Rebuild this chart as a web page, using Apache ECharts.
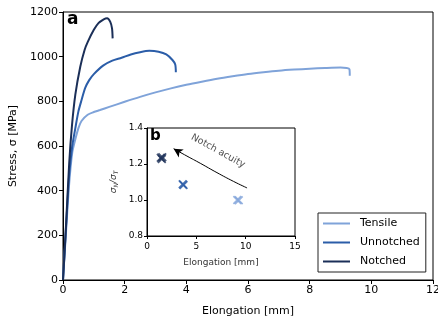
<!DOCTYPE html>
<html><head><meta charset="utf-8">
<script src="https://cdn.jsdelivr.net/npm/echarts@6/dist/echarts.min.js"></script>
<style>html,body{margin:0;padding:0;background:#fff}#c{width:438px;height:322px}</style>
</head><body><div id="c"></div>
<script>
// Stress–strain curves: [elongation mm, stress MPa]
var tensile = [[0,0],[0.1,220],[0.2,430],[0.3,570],[0.4,630],[0.5,680],[0.6,712],[0.8,740],[1.0,752],[1.2,761],[1.5,775],[2.0,798],[2.5,820],[3.0,840],[3.5,858],[4.0,874],[4.5,888],[5.0,901],[5.5,912],[6.0,922],[6.5,930],[7.0,937],[7.5,942],[8.0,946],[8.5,949],[9.0,951],[9.2,949],[9.29,944],[9.3,915]];
var unnotched = [[0,0],[0.1,240],[0.2,470],[0.3,600],[0.4,680],[0.5,755],[0.6,805],[0.72,860],[0.85,895],[1.0,922],[1.3,960],[1.6,982],[1.9,995],[2.2,1010],[2.5,1020],[2.8,1026],[3.1,1022],[3.35,1010],[3.55,985],[3.64,965],[3.66,930]];
var notched = [[0,0],[0.1,250],[0.2,520],[0.29,690],[0.4,830],[0.56,955],[0.7,1030],[0.8,1065],[1.0,1120],[1.15,1150],[1.32,1167],[1.43,1172],[1.53,1157],[1.59,1127],[1.61,1082]];
// Inset: strength ratio vs elongation
var insetTensile = [[9.15,1.0],[9.3,0.998]];
var insetUnnotched = [[3.62,1.088],[3.7,1.083]];
var insetNotched = [[1.4,1.235],[1.5,1.228],[1.55,1.238]];
var arrowPath = [[10.14,1.067],[8.78,1.103],[7.09,1.152],[5.4,1.204],[4.05,1.244],[2.7,1.285]];
var xTicksMain = [0,2,4,6,8,10,12];
var yTicksMain = [0,200,400,600,800,1000,1200];

var C_T = '#7FA3D9', C_U = '#2B5DA8', C_N = '#1B2F58';
var FONT = 'DejaVu Sans';
var X = 'path://M0,1.4 L1.4,0 L5,3.6 L8.6,0 L10,1.4 L6.4,5 L10,8.6 L8.6,10 L5,6.4 L1.4,10 L0,8.6 L3.6,5 Z';
var LINEICON = 'path://M0,0 L27,0 L27,2 L0,2 Z';

var arrowData = arrowPath.map(function(p,i){
  if (i === arrowPath.length-1) return {value:p, symbol:'arrow', symbolSize:[7,9], symbolRotate:58, itemStyle:{color:'#000'}};
  return {value:p, symbol:'none'};
});
function plain(v){ return String(v); }

var chart = echarts.init(document.getElementById('c'), null, {renderer:'canvas'});
chart.setOption({
  animation:false,
  backgroundColor:'#fff',
  textStyle:{fontFamily:FONT},
  grid:[
    {left:63, right:5, top:12, bottom:42, show:true, borderColor:'#000', borderWidth:1, outerBoundsMode:'none', containLabel:false},
    {left:147, top:128, width:148, height:108, show:true, borderColor:'#000', borderWidth:1, backgroundColor:'#fff', z:5, outerBoundsMode:'none', containLabel:false}
  ],
  xAxis:[
    {gridIndex:0, type:'value', min:xTicksMain[0], max:xTicksMain[xTicksMain.length-1], interval:2,
     name:'Elongation [mm]', nameLocation:'middle', nameGap:26, nameTextStyle:{fontSize:11, color:'#000', fontFamily:FONT},
     axisLine:{lineStyle:{color:'#000', width:1}}, axisTick:{length:4, lineStyle:{color:'#000'}},
     axisLabel:{fontSize:11, color:'#000', margin:5, fontFamily:FONT, formatter:plain, hideOverlap:false}, splitLine:{show:false}},
    {gridIndex:1, type:'value', min:0, max:15, interval:5,
     name:'Elongation [mm]', nameLocation:'middle', nameGap:22, nameTextStyle:{fontSize:9, color:'#333', fontFamily:FONT},
     axisLine:{lineStyle:{color:'#000', width:1}}, axisTick:{length:3, lineStyle:{color:'#000'}},
     axisLabel:{fontSize:9, color:'#000', margin:6, fontFamily:FONT, formatter:plain}, splitLine:{show:false}, z:6}
  ],
  yAxis:[
    {gridIndex:0, type:'value', min:yTicksMain[0], max:yTicksMain[yTicksMain.length-1], interval:200,
     name:'Stress, σ [MPa]', nameLocation:'middle', nameGap:42, nameRotate:90, nameTextStyle:{fontSize:11, color:'#000', fontFamily:FONT},
     axisLine:{lineStyle:{color:'#000', width:1}}, axisTick:{length:4, lineStyle:{color:'#000'}},
     axisLabel:{fontSize:11, color:'#000', margin:5, fontFamily:FONT, formatter:plain}, splitLine:{show:false}},
    {gridIndex:1, type:'value', min:0.8, max:1.4, interval:0.2,
     name:'{i|σ}{s|N}{i|/σ}{s|T}', nameLocation:'middle', nameGap:28, nameRotate:90,
     nameTextStyle:{color:'#333', fontFamily:FONT, rich:{i:{fontSize:9, fontStyle:'italic', color:'#333'}, s:{fontSize:6, fontStyle:'italic', color:'#333', verticalAlign:'bottom', padding:[4,0,0,0]}}},
     axisLine:{lineStyle:{color:'#000', width:1}}, axisTick:{length:3, lineStyle:{color:'#000'}},
     axisLabel:{fontSize:9, color:'#000', margin:4, fontFamily:FONT, formatter:function(v){return v.toFixed(1);}}, splitLine:{show:false}, z:6}
  ],
  legend:{
    data:['Tensile','Unnotched','Notched'], orient:'vertical', left:318, top:213,
    icon:LINEICON, itemWidth:27, itemHeight:2, itemGap:6, padding:[4,6,4,5],
    borderColor:'#222', borderWidth:1, borderRadius:0, backgroundColor:'#fff',
    textStyle:{fontSize:11, color:'#000', fontFamily:FONT, lineHeight:13, padding:[0,0,0,5]}
  },
  series:[
    {name:'Tensile', type:'line', xAxisIndex:0, yAxisIndex:0, data:tensile, symbol:'none', smooth:0.25, lineStyle:{color:C_T, width:2}, itemStyle:{color:C_T}},
    {name:'Unnotched', type:'line', xAxisIndex:0, yAxisIndex:0, data:unnotched, symbol:'none', smooth:0.25, lineStyle:{color:C_U, width:2}, itemStyle:{color:C_U}},
    {name:'Notched', type:'line', xAxisIndex:0, yAxisIndex:0, data:notched, symbol:'none', smooth:0.25, lineStyle:{color:C_N, width:2}, itemStyle:{color:C_N}},
    {name:'iT', type:'scatter', xAxisIndex:1, yAxisIndex:1, data:insetTensile, symbol:X, symbolSize:9, itemStyle:{color:C_T, opacity:0.8}, z:7},
    {name:'iU', type:'scatter', xAxisIndex:1, yAxisIndex:1, data:insetUnnotched, symbol:X, symbolSize:9, itemStyle:{color:C_U, opacity:0.85}, z:7},
    {name:'iN', type:'scatter', xAxisIndex:1, yAxisIndex:1, data:insetNotched, symbol:X, symbolSize:9, itemStyle:{color:C_N, opacity:0.8}, z:7},
    {name:'arrow', type:'line', xAxisIndex:1, yAxisIndex:1, data:arrowData, smooth:true, symbol:'none', lineStyle:{color:'#000', width:1}, z:7},
    {name:'acuity', type:'scatter', xAxisIndex:1, yAxisIndex:1, data:[[7.2,1.272]], symbolSize:0, itemStyle:{color:'transparent'}, z:7,
     label:{show:true, position:'inside', rotate:-29, formatter:'Notch acuity', fontSize:9.5, color:'#222', fontFamily:FONT}}
  ],
  graphic:[
    {type:'text', left:67, top:11, z:10, style:{text:'a', font:'bold 17px DejaVu Sans', fill:'#000'}},
    {type:'text', left:150, top:129, z:10, style:{text:'b', font:'bold 15px DejaVu Sans', fill:'#000'}}
  ]
});
</script></body></html>
